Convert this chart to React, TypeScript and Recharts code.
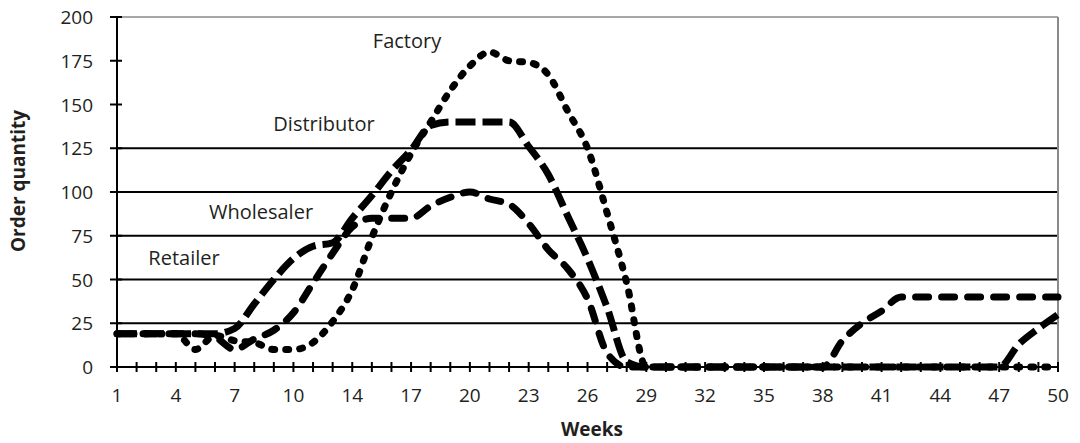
import React from 'react';
import { LineChart, Line, XAxis, YAxis, ReferenceLine, Customized } from 'recharts';

// Week categories as labelled on the axis (49 positions, every 3rd labelled)
const weeks = [1, 2, 3, 4, 5, 6, 7, 8, 9, 10, 12, 13, 14, 15, 16, 17, 18, 19, 20, 21, 22, 23, 24, 25, 26, 27, 28, 29, 30, 31, 32, 33, 34, 35, 36, 37, 38, 39, 40, 41, 42, 43, 44, 45, 46, 47, 48, 49, 50];

const factory = [19, 19, 19, 19, 10, 18, 15, 14, 10, 10, 14, 26, 44, 74, 100, 122, 140, 158, 172, 180, 175, 174, 167, 146, 125, 88, 48, 0, 0, 0, 0, 0, 0, 0, 0, 0, 0, 0, 0, 0, 0, 0, 0, 0, 0, 0, 0, 0, 0];
const distributor = [19, 19, 19, 19, 19, 19, 22, 36, 50, 62, 69, 71, 85, 98, 112, 124, 138, 140, 140, 140, 140, 126, 110, 86, 62, 34, 3, 0, 0, 0, 0, 0, 0, 0, 0, 0, 0, 0, 0, 0, 0, 0, 0, 0, 0, 0, 13, 22, 30];
const wholesaler = [19, 19, 19, 19, 19, 17, 10, 16, 21, 31, 48, 65, 80, 85, 85, 85, 92, 97, 100, 96, 93, 82, 67, 56, 39, 8, 0, 0, 0, 0, 0, 0, 0, 0, 0, 0, 0, 15, 25, 32, 40, 40, 40, 40, 40, 40, 40, 40, 40];

const yTicks = [0, 25, 50, 75, 100, 125, 150, 175, 200];
const gridValues = [25, 50, 75, 100, 125];

const annotations = [
  { text: 'Factory', x: 407, y: 48 },
  { text: 'Distributor', x: 324, y: 131 },
  { text: 'Wholesaler', x: 261, y: 219 },
  { text: 'Retailer', x: 184, y: 265 },
];

const data = weeks.map((w, i) => ({
  week: w,
  factory: factory[i],
  distributor: distributor[i],
  wholesaler: wholesaler[i],
}));

const FONT = '"Open Sans", "Noto Sans", sans-serif';
const TXT = '#231f20';

const XTick = (props: any) => {
  const { x, y, payload, index } = props;
  return (
    <g>
      <line x1={x} x2={x} y1={y - 5} y2={y + 5} stroke="#000" strokeWidth={2} />
      {index % 3 === 0 && (
        <text x={x} y={y + 35} textAnchor="middle" fontSize={19} fill={TXT} fontFamily={FONT}>
          {payload.value}
        </text>
      )}
    </g>
  );
};

const YTick = (props: any) => {
  const { x, y, payload } = props;
  return (
    <g>
      <line x1={x - 7} x2={x + 5} y1={y} y2={y} stroke="#000" strokeWidth={2} />
      <text x={x - 24} y={y + 7} textAnchor="end" fontSize={19} fill={TXT} fontFamily={FONT}>
        {payload.value}
      </text>
    </g>
  );
};

const Texts = () => (
  <g fontFamily={FONT}>
    {annotations.map((a) => (
      <text key={a.text} x={a.x} y={a.y} textAnchor="middle" fontSize={20} fill={TXT}>
        {a.text}
      </text>
    ))}
    <text x={592} y={436} textAnchor="middle" fontSize={19} fontWeight="bold" fill={TXT}>
      Weeks
    </text>
    <text x={25} y={181} textAnchor="middle" fontSize={19} fontWeight="bold" fill={TXT} transform="rotate(-90, 25, 181)">
      Order quantity
    </text>
  </g>
);

export default function App() {
  return (
    <div style={{ position: 'absolute', left: 0, top: 0, width: 1080, height: 443, background: '#fff', fontFamily: FONT }}>
      <LineChart width={1080} height={443} data={data} margin={{ top: 17, right: 22, bottom: 0, left: 0 }}>
        <XAxis
          dataKey="week"
          type="category"
          interval={0}
          height={76}
          tickSize={0}
          tickMargin={0}
          tickLine={false}
          axisLine={{ stroke: '#000', strokeWidth: 2 }}
          tick={<XTick />}
        />
        <YAxis
          domain={[0, 200]}
          ticks={yTicks}
          width={117}
          tickSize={0}
          tickMargin={0}
          tickLine={false}
          axisLine={{ stroke: '#000', strokeWidth: 2 }}
          tick={<YTick />}
          interval={0}
        />
        {gridValues.map((v) => (
          <ReferenceLine key={v} y={v} stroke="#000" strokeWidth={2} />
        ))}
        <ReferenceLine y={200} stroke="#8a8a8a" strokeWidth={1.5} />
        <ReferenceLine x={50} stroke="#8a8a8a" strokeWidth={2} />
        <Line
          dataKey="wholesaler"
          type="monotone"
          stroke="#000"
          strokeWidth={7}
          strokeLinecap="round"
          strokeDasharray="13 13"
          dot={false}
          activeDot={false}
          isAnimationActive={false}
        />
        <Line
          dataKey="distributor"
          type="monotone"
          stroke="#000"
          strokeWidth={7}
          strokeLinecap="butt"
          strokeDasharray="20 7"
          dot={false}
          activeDot={false}
          isAnimationActive={false}
        />
        <Line
          dataKey="factory"
          type="monotone"
          stroke="#000"
          strokeWidth={7}
          strokeLinecap="round"
          strokeDasharray="3 11"
          dot={false}
          activeDot={false}
          isAnimationActive={false}
        />
        <Customized component={Texts} />
      </LineChart>
    </div>
  );
}
